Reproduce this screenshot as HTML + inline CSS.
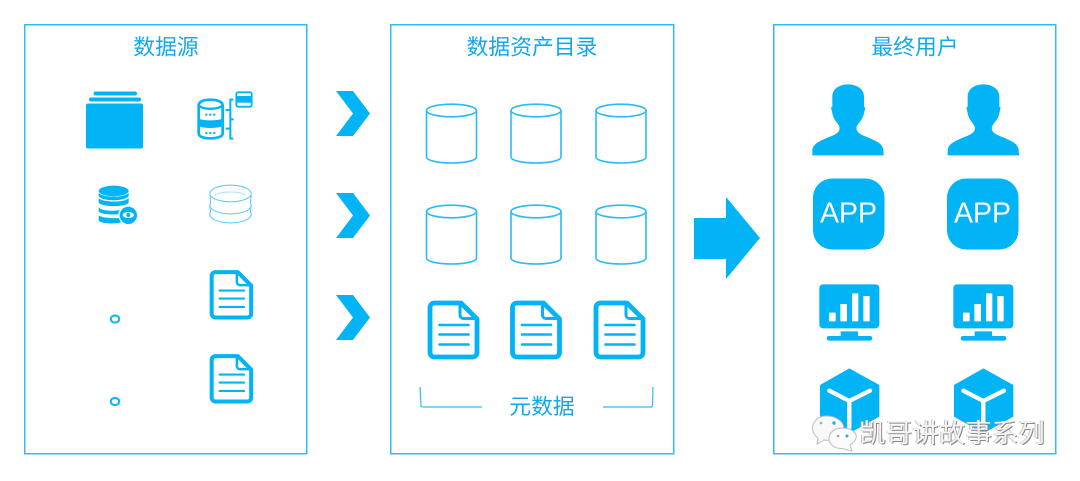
<!DOCTYPE html>
<html><head><meta charset="utf-8">
<style>
html,body{margin:0;padding:0;background:#fff;width:1080px;height:481px;overflow:hidden}
svg{display:block;position:absolute;left:0;top:0}
text{font-family:"Liberation Sans","Noto Sans CJK SC",sans-serif}
.t{font-size:21.8px;fill:#12a8ee;text-anchor:middle}
.wm{position:absolute;left:859.5px;top:416px;font:26px/32px "Noto Sans CJK SC",sans-serif;color:#f4f4f4;white-space:nowrap;text-shadow:1px 1px 0 #8a8a8a,-1px 0 0 #c4c4c4;letter-spacing:.55px}
</style></head><body>
<svg width="1080" height="481" viewBox="0 0 1080 481" xmlns="http://www.w3.org/2000/svg">
<defs>
<g id="cyl" fill="none" stroke="#2abbf6" stroke-width="1.600">
<ellipse cx="25.5" cy="6.5" rx="25" ry="6.3"/>
<path d="M.5 6.5V53C.5 56.500 12 59 25.500 59S50.500 56.500 50.500 53V6.500"/>
</g>
<g id="doc">
<path d="M6 2.500H33L49 18.500V52A4.500 4.500 0 0 1 44.500 56.500H6.500A4.500 4.500 0 0 1 2 52V7A4.500 4.500 0 0 1 6.500 2.500Z" fill="#fff" stroke="#00b4f6" stroke-width="4.800" stroke-linejoin="round"/>
<path d="M32 3V14.500A3.500 3.500 0 0 0 35.500 18H48" fill="none" stroke="#00b4f6" stroke-width="3"/>
<path d="M11.500 24.500H40.500M11.500 34H40.500M11.500 44H40.500" stroke="#00b4f6" stroke-width="2.600" stroke-linecap="round"/>
</g>
<path id="person" d="M67 241V225C70 205 90 198 120 185C140 177 152 170 148 155C145 145 130 135 127 115L123 98L127 95V65C127 40 150 28 174 28C198 28 222 40 222 65V95L226 98L222 115C218 135 203 145 200 155C197 170 207 177 228 185C258 198 278 205 280 225L281 241Z" fill="#00b4f6"/>
<g id="mon">
<rect x="88" y="43" width="180" height="132" rx="11" fill="#00b4f6"/>
<g fill="#fff"><rect x="117" y="128" width="20" height="26" rx="2"/><rect x="151" y="102" width="20" height="52" rx="2"/><rect x="186" y="70" width="19" height="84" rx="2"/><rect x="220" y="78" width="19" height="76" rx="2"/></g>
<rect x="152" y="184" width="52" height="18" fill="#00b4f6"/>
<rect x="110" y="198" width="137" height="14" rx="7" fill="#00b4f6"/>
</g>
<g id="cube">
<path d="M178 295L268 345V440L178 490L90 440V345Z" fill="#00b4f6"/>
<path d="M118 362L178 393L240 362M178 393V472" fill="none" stroke="#fff" stroke-width="13" stroke-linecap="round"/>
</g>
<path id="chev" d="M336 91H353L370 113.500L353 136H336L353 113.500Z" fill="#00b4f6"/>
</defs>

<g fill="none" stroke="#2dbdf6" stroke-width="1.500">
<rect x="24.750" y="24.750" width="282" height="429"/>
<rect x="390.750" y="24.750" width="283" height="429"/>
<rect x="773.750" y="24.750" width="282" height="429"/>
</g>

<text class="t" x="166" y="54.500">数据源</text>
<text class="t" x="532" y="54.500">数据资产目录</text>
<text class="t" x="915" y="54.500">最终用户</text>

<!-- data sources -->
<rect x="86" y="103.500" width="57" height="45" rx="2" fill="#00b4f6"/>
<rect x="89" y="97.500" width="52" height="4" rx="2" fill="#00b4f6"/>
<rect x="93.500" y="91.500" width="43.500" height="4" rx="2" fill="#00b4f6"/>

<g transform="translate(60 70) scale(.33333)">
<path d="M416 106C416 94 434 89 451 89S488 94 488 106V190C488 200 470 205 451 205S416 200 416 190Z" fill="#fff" stroke="#00b4f6" stroke-width="8"/>
<path d="M416 106C430 120 472 120 488 106" fill="none" stroke="#00b4f6" stroke-width="7"/>
<path d="M416 146C430 153 472 153 488 146V168C472 176 430 176 416 168Z" fill="#00b4f6"/>
<g fill="#00b4f6"><circle cx="439" cy="134" r="3.500"/><circle cx="451" cy="134" r="3.500"/><circle cx="463" cy="134" r="3.500"/><circle cx="439" cy="189" r="3.500"/><circle cx="451" cy="189" r="3.500"/><circle cx="463" cy="189" r="3.500"/></g>
<path d="M520 89H511V206H520M497 120H511M511 148H521M497 176H511" fill="none" stroke="#00b4f6" stroke-width="6"/>
<rect x="529" y="67" width="46" height="43" rx="5" fill="#fff" stroke="#00b4f6" stroke-width="5.500"/>
<rect x="530" y="78" width="44" height="20" fill="#00b4f6"/>
</g>

<g transform="translate(60 70) scale(.33333)">
<ellipse cx="161" cy="363" rx="45" ry="16" fill="#00b4f6"/>
<path d="M116 368C125 384 197 384 206 368V378C197 395 125 395 116 378Z" fill="#00b4f6"/>
<path d="M116 384C125 398 197 398 206 384V398C197 412 125 412 116 398Z" fill="#00b4f6"/>
<path d="M116 412C125 425 175 425 200 415L180 432C150 436 125 432 116 425Z" fill="#00b4f6"/>
<path d="M116 436C130 445 165 445 180 444L182 458C150 463 125 460 116 452Z" fill="#00b4f6"/>
<circle cx="205" cy="435" r="30" fill="#fff"/>
<circle cx="205" cy="436" r="26" fill="#00b4f6"/>
<ellipse cx="205" cy="435" rx="17" ry="9" fill="#fff"/>
<circle cx="205" cy="435" r="6" fill="#00b4f6"/>
</g>

<g fill="none" stroke="#5fcdf8" stroke-width="1.100">
<ellipse cx="230.500" cy="193.500" rx="20.700" ry="8.300"/>
<path d="M210.500 203.200A20.700 8.500 0 1 0 250.500 203.200"/>
<path d="M210.500 212.200A20.700 8.500 0 1 0 250.500 212.200"/>
<path d="M215 195C221 191 240 191 246 195" stroke-dasharray="1 1"/>
<path d="M210 195.500L210.500 203.200M251 195.500L250.500 203.200M210 205L210.500 212.200M251 205L250.500 212.200"/>
</g>

<ellipse cx="115" cy="319" rx="4.200" ry="3.600" fill="none" stroke="#14b6f6" stroke-width="2.100"/>
<ellipse cx="115" cy="401.500" rx="4.200" ry="3.600" fill="none" stroke="#14b6f6" stroke-width="2.100"/>

<use href="#doc" transform="translate(210 270) scale(.84 .84)"/>
<use href="#doc" transform="translate(210 354) scale(.84 .84)"/>

<!-- chevrons -->
<use href="#chev"/>
<use href="#chev" y="102"/>
<use href="#chev" y="204"/>

<!-- catalog -->
<use href="#cyl" x="426" y="104"/>
<use href="#cyl" x="510.500" y="104"/>
<use href="#cyl" x="595.500" y="104"/>
<use href="#cyl" x="426" y="205"/>
<use href="#cyl" x="510.500" y="205"/>
<use href="#cyl" x="595.500" y="205"/>
<use href="#doc" x="428" y="300.500"/>
<use href="#doc" x="510.500" y="300.500"/>
<use href="#doc" x="594" y="300.500"/>

<path d="M420 387L421 406.500C422 407 423 407 424 407H482M603 407H651C652 407 652.500 406.500 652.500 405.500L653 387" fill="none" stroke="#30bdf6" stroke-width="1.200"/>
<text class="t" x="542" y="414">元数据</text>

<!-- big arrow -->
<path d="M694 218H726V197L760 238L726 279V259H694Z" fill="#00b4f6"/>

<!-- users -->
<g transform="translate(790 75) scale(.33333)"><use href="#person"/><use href="#person" x="406"/></g>

<rect x="813" y="178.500" width="71.500" height="71" rx="19" fill="#00b4f6"/>
<rect x="947" y="178.500" width="71.500" height="71" rx="19" fill="#00b4f6"/>
<text x="848.500" y="222.500" font-size="28.500" fill="#fff" text-anchor="middle">APP</text>
<text x="982.500" y="222.500" font-size="28.500" fill="#fff" text-anchor="middle">APP</text>

<g transform="translate(790 270) scale(.33333)">
<use href="#mon"/><use href="#mon" x="402"/>
<use href="#cube"/><use href="#cube" x="402"/>
</g>

<!-- watermark bubbles -->
<g stroke="#bdbdbd" stroke-width="1">
<path d="M826 416C817 416 812.500 423 812.500 428C812.500 433 815 436 818 438L817 444L824 440C830 441 840 439 843 431C846 422 836 416 826 416Z" fill="#f8f8f8"/>
<path d="M842 428C832 428 829 435 829 439C829 445 836 449 842 448.500L852 451L850 445C855 442 857 438 856 435C855 431 850 428 842 428Z" fill="#fbfbfb"/>
</g>
<g fill="#3aa9dc" stroke="none"><circle cx="834" cy="423" r="1.700"/><circle cx="847" cy="436" r="1.500"/></g>
<g fill="#a8a8a8" stroke="none"><circle cx="821" cy="423" r="1.300"/><circle cx="838" cy="436" r="1.300"/></g>
</svg>
<div class="wm">凯哥讲故事系列</div>
</body></html>
